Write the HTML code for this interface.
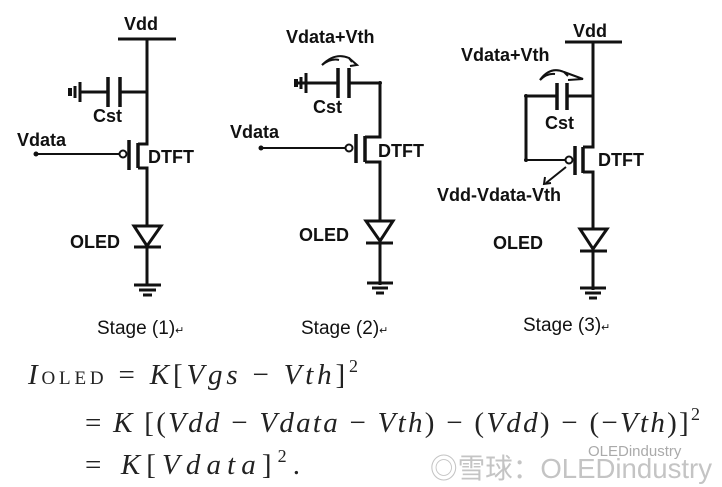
<!DOCTYPE html>
<html><head><meta charset="utf-8"><style>
html,body{margin:0;padding:0;background:#fff;width:722px;height:487px;overflow:hidden}
svg{display:block}
.t{font-family:"Liberation Sans",Arial,sans-serif;font-weight:bold;font-size:18px;fill:#111}
.s{font-family:"Liberation Sans",Arial,sans-serif;font-size:19px;fill:#111}
.m{font-family:"Liberation Serif","DejaVu Serif",serif;font-size:29px;fill:#222}
.i{font-style:italic}
</style></head><body>
<svg width="722" height="487" viewBox="0 0 722 487" xmlns="http://www.w3.org/2000/svg">
<g stroke="#111" stroke-width="3" fill="none">
<!-- Stage 1 -->
<line x1="118" y1="39" x2="176" y2="39"/>
<line x1="147" y1="39" x2="147" y2="143"/>
<line x1="80" y1="92" x2="108" y2="92"/><line x1="120" y1="92" x2="147" y2="92"/>
<line x1="108" y1="77" x2="108" y2="107" stroke-width="3.5"/><line x1="120" y1="77" x2="120" y2="107" stroke-width="3.5"/>
<line x1="80" y1="82" x2="80" y2="102"/><line x1="75" y1="86" x2="75" y2="98"/><line x1="70" y1="88" x2="70" y2="96" stroke-width="4"/>
<line x1="36" y1="154" x2="119" y2="154" stroke-width="2"/>
<circle cx="36" cy="154" r="2.5" fill="#111" stroke="none"/>
<circle cx="123" cy="154" r="3.5" stroke-width="2"/>
<line x1="129" y1="140" x2="129" y2="170" stroke-width="3.5"/>
<line x1="138" y1="143" x2="138" y2="168" stroke-width="3.5"/>
<polyline points="138,144 147,144 147,143"/>
<polyline points="138,168 147,168 147,285"/>
<polygon points="134,226 161,226 147,246" fill="#fff"/>
<line x1="134" y1="247" x2="161" y2="247"/>
<line x1="134" y1="285" x2="161" y2="285"/><line x1="139" y1="290" x2="156" y2="290"/><line x1="143" y1="295" x2="152" y2="295"/>
<!-- Stage 2 -->
<line x1="297" y1="83" x2="338" y2="83"/><line x1="349" y1="83" x2="380" y2="83"/>
<line x1="338" y1="68" x2="338" y2="98" stroke-width="3.5"/><line x1="349" y1="68" x2="349" y2="98" stroke-width="3.5"/>
<line x1="306" y1="73" x2="306" y2="93"/><line x1="301" y1="77" x2="301" y2="89"/><line x1="296" y1="79" x2="296" y2="87" stroke-width="4"/>
<circle cx="380" cy="83" r="2" fill="#111" stroke="none"/>
<line x1="380" y1="83" x2="380" y2="136"/>
<line x1="261" y1="148" x2="345" y2="148" stroke-width="2"/>
<circle cx="261" cy="148" r="2.5" fill="#111" stroke="none"/>
<circle cx="349" cy="148" r="3.5" stroke-width="2"/>
<line x1="356" y1="134" x2="356" y2="163" stroke-width="3.5"/>
<line x1="365" y1="136" x2="365" y2="162" stroke-width="3.5"/>
<polyline points="365,137 380,137 380,136"/>
<polyline points="365,162 380,162 380,285"/>
<polygon points="366,221 393,221 380,241" fill="#fff"/>
<line x1="366" y1="243" x2="393" y2="243"/>
<line x1="367" y1="283" x2="393" y2="283"/><line x1="372" y1="288" x2="388" y2="288"/><line x1="376" y1="293" x2="384" y2="293"/>
<path d="M322,65 Q335,52 349,58 L352,62" stroke-width="2"/><path d="M322,65 Q331,58 339,60" stroke-width="2"/>
<path d="M349,58 L357,65 L350,66" stroke-width="2"/>
<!-- Stage 3 -->
<line x1="565" y1="42" x2="622" y2="42"/>
<line x1="593" y1="42" x2="593" y2="146"/>
<line x1="526" y1="96" x2="557" y2="96"/><line x1="567" y1="96" x2="593" y2="96"/>
<line x1="557" y1="83" x2="557" y2="110" stroke-width="3.5"/><line x1="567" y1="83" x2="567" y2="110" stroke-width="3.5"/>
<line x1="526" y1="96" x2="526" y2="160"/>
<line x1="526" y1="160" x2="566" y2="160" stroke-width="2"/>
<circle cx="526" cy="96" r="2" fill="#111" stroke="none"/><circle cx="526" cy="160" r="2" fill="#111" stroke="none"/>
<circle cx="569" cy="160" r="3.5" stroke-width="2"/>
<line x1="575" y1="146" x2="575" y2="175" stroke-width="3.5"/>
<line x1="583" y1="147" x2="583" y2="173" stroke-width="3.5"/>
<polyline points="583,147 593,147 593,146"/>
<polyline points="583,172 593,172 593,290"/>
<line x1="566" y1="167" x2="546" y2="183" stroke-width="2"/>
<polyline points="545,177 544,184 551,183" stroke-width="2"/>
<polygon points="580,229 607,229 593,249" fill="#fff"/>
<line x1="580" y1="251" x2="607" y2="251"/>
<line x1="580" y1="288" x2="606" y2="288"/><line x1="585" y1="293" x2="601" y2="293"/><line x1="589" y1="298" x2="597" y2="298"/>
<path d="M540,80 Q550,66 564,72 L568,76" stroke-width="2"/><path d="M540,80 Q547,73 555,74" stroke-width="2"/>
<path d="M564,72 L583,79 L568,80" stroke-width="2"/>
</g>
<!-- labels -->
<text class="t" x="124" y="30">Vdd</text>
<text class="t" x="93" y="122">Cst</text>
<text class="t" x="17" y="146">Vdata</text>
<text class="t" x="148" y="163">DTFT</text>
<text class="t" x="70" y="248">OLED</text>
<text class="s" x="97" y="334">Stage (1)<tspan font-size="11">↵</tspan></text>

<text class="t" x="286" y="43">Vdata+Vth</text>
<text class="t" x="313" y="113">Cst</text>
<text class="t" x="230" y="138">Vdata</text>
<text class="t" x="378" y="157">DTFT</text>
<text class="t" x="299" y="241">OLED</text>
<text class="s" x="301" y="334">Stage (2)<tspan font-size="11">↵</tspan></text>

<text class="t" x="573" y="37">Vdd</text>
<text class="t" x="461" y="61">Vdata+Vth</text>
<text class="t" x="545" y="129">Cst</text>
<text class="t" x="598" y="166">DTFT</text>
<text class="t" x="437" y="201">Vdd-Vdata-Vth</text>
<text class="t" x="493" y="249">OLED</text>
<text class="s" x="523" y="331">Stage (3)<tspan font-size="11">↵</tspan></text>

<text class="m" x="28" y="384" textLength="330" lengthAdjust="spacing"><tspan class="i">I</tspan><tspan font-size="19">OLED</tspan> = <tspan class="i">K</tspan>[<tspan class="i">Vgs</tspan> − <tspan class="i">Vth</tspan>]<tspan font-size="18" dy="-12">2</tspan></text>
<text class="m" x="85" y="432" textLength="615" lengthAdjust="spacing">= <tspan class="i">K</tspan> [(<tspan class="i">Vdd</tspan> − <tspan class="i">Vdata</tspan> − <tspan class="i">Vth</tspan>) − (<tspan class="i">Vdd</tspan>) − (−<tspan class="i">Vth</tspan>)]<tspan font-size="18" dy="-12">2</tspan></text>
<text class="m" x="85" y="474" textLength="215" lengthAdjust="spacing">= <tspan class="i">K</tspan>[<tspan class="i">Vdata</tspan>]<tspan font-size="18" dy="-12">2</tspan><tspan dy="12">.</tspan></text>
<text x="588" y="456" font-family="Liberation Sans,sans-serif" font-size="15" fill="#aaa">OLEDindustry</text>
<text x="430" y="478" font-family="Liberation Sans,'Noto Sans CJK SC',sans-serif" font-size="28" fill="#c4c4c4" textLength="282" lengthAdjust="spacingAndGlyphs">◎雪球：OLEDindustry</text>
</svg>
</body></html>
